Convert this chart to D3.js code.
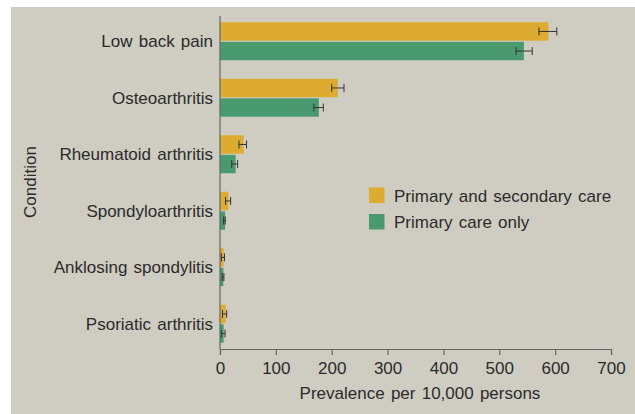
<!DOCTYPE html>
<html>
<head>
<meta charset="utf-8">
<script src="https://cdn.jsdelivr.net/npm/d3@7"></script>
<style>
  body { margin: 0; background: #fff; }
  svg text { font-family: "Liberation Sans", Arial, sans-serif; fill: #2b2b2b; word-spacing: 1.5px; }
</style>
</head>
<body>
<svg id="chart" width="635" height="414"></svg>
<script>
const categories = ["Low back pain", "Osteoarthritis", "Rheumatoid arthritis", "Spondyloarthritis", "Anklosing spondylitis", "Psoriatic arthritis"];
const seriesNames = ["Primary and secondary care", "Primary care only"];
const primSec   = [588, 211, 42, 15, 6.5, 10];
const primSecLo = [571, 200, 34, 10, 2.5, 4.5];
const primSecHi = [603, 222, 47.5, 19, 8, 12];
const primOnly   = [544, 177, 28, 9, 6, 6.5];
const primOnlyLo = [530, 168, 21, 6.5, 4, 3];
const primOnlyHi = [559, 185, 31.5, 9.5, 7, 9];
const xTicks = [0, 100, 200, 300, 400, 500, 600, 700];
const colors = ["#dcab2f", "#4a9a70"];

const svg = d3.select("#chart");
svg.append("rect").attr("x", 0).attr("y", 0).attr("width", 635).attr("height", 414).attr("fill", "#fff");
svg.append("rect").attr("x", 11).attr("y", 7).attr("width", 624).attr("height", 407).attr("fill", "#cfccc1");

const x = d3.scaleLinear().domain([0, 700]).range([220, 611]);
const y = d3.scaleBand().domain(categories).range([13, 352]).padding(0);
const ySub = d3.scaleBand().domain(seriesNames).range([-19, 19]).paddingInner(0.06);

const rows = [];
categories.forEach((c, i) => {
  rows.push({cat: c, s: seriesNames[0], v: primSec[i], lo: primSecLo[i], hi: primSecHi[i], col: colors[0]});
  rows.push({cat: c, s: seriesNames[1], v: primOnly[i], lo: primOnlyLo[i], hi: primOnlyHi[i], col: colors[1]});
});
const center = d => y(d.cat) + y.bandwidth() / 2;

svg.append("g").selectAll("rect").data(rows).join("rect")
  .attr("x", x(0))
  .attr("y", d => center(d) + ySub(d.s))
  .attr("width", d => x(d.v) - x(0))
  .attr("height", ySub.bandwidth())
  .attr("fill", d => d.col);

const eb = svg.append("g").attr("stroke", "#333").attr("stroke-width", 1).attr("fill", "none");
rows.forEach(d => {
  const cy = center(d) + ySub(d.s) + ySub.bandwidth() / 2;
  eb.append("line").attr("x1", x(d.lo)).attr("x2", x(d.hi)).attr("y1", cy).attr("y2", cy);
  eb.append("line").attr("x1", x(d.lo)).attr("x2", x(d.lo)).attr("y1", cy - 4).attr("y2", cy + 4);
  eb.append("line").attr("x1", x(d.hi)).attr("x2", x(d.hi)).attr("y1", cy - 4).attr("y2", cy + 4);
});

// y axis line
svg.append("line").attr("x1", x(0)).attr("x2", x(0)).attr("y1", 16).attr("y2", 349)
  .attr("stroke", "#666").attr("stroke-width", 1.2);

// category labels
svg.append("g").selectAll("text").data(categories).join("text")
  .attr("x", 213)
  .attr("y", d => y(d) + y.bandwidth() / 2 + 6)
  .attr("text-anchor", "end")
  .attr("font-size", 17)
  .text(d => d);

// x axis
const xAxis = svg.append("g").attr("transform", "translate(0,349)")
  .call(d3.axisBottom(x).tickValues(xTicks).tickSize(6).tickSizeOuter(6).tickFormat(d3.format("d")));
xAxis.select(".domain").attr("stroke", "#666").attr("stroke-width", 1.2);
xAxis.selectAll(".tick line").attr("stroke", "#666").attr("stroke-width", 1.2);
xAxis.selectAll(".tick text").attr("y", 25).attr("dy", null)
  .attr("font-size", 17).style("fill", "#2b2b2b")
  .attr("font-family", null);

svg.append("text").attr("x", 420).attr("y", 399).attr("text-anchor", "middle")
  .attr("font-size", 17).text("Prevalence per 10,000 persons");

svg.append("text").attr("transform", "translate(36,182) rotate(-90)")
  .attr("text-anchor", "middle").attr("font-size", 17).text("Condition");

// legend
const leg = svg.append("g");
seriesNames.forEach((s, i) => {
  leg.append("rect").attr("x", 369).attr("y", 187.5 + i * 26.5).attr("width", 15.5).attr("height", 15.5).attr("fill", colors[i]);
  leg.append("text").attr("x", 394).attr("y", 201.7 + i * 26.5).attr("font-size", 17).text(s);
});
</script>
</body>
</html>
